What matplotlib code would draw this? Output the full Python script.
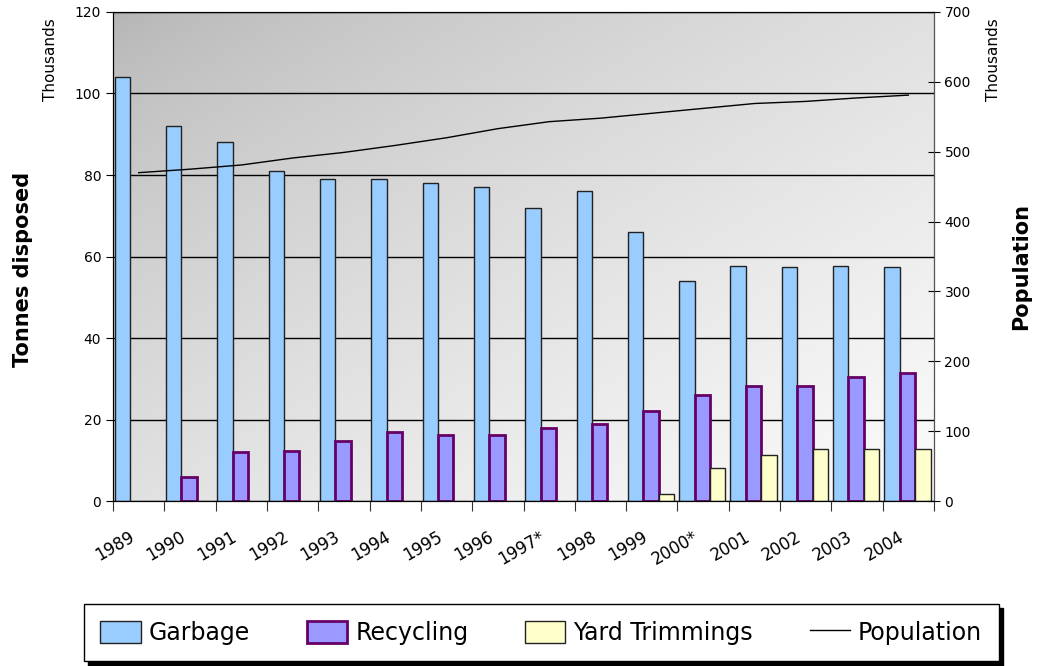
import numpy as np
import matplotlib
matplotlib.use('Agg')
from matplotlib import pyplot as plt
from matplotlib.patches import Patch
from matplotlib.lines import Line2D

years = ["1989", "1990", "1991", "1992", "1993", "1994", "1995", "1996",
         "1997*", "1998", "1999", "2000*", "2001", "2002", "2003", "2004"]
garbage = [104, 92, 88, 81, 79, 79, 78, 77, 72, 76, 66, 54, 57.7, 57.5, 57.7, 57.5]
recycling = [0, 6, 12, 12.3, 14.8, 17, 16.2, 16.2, 18, 19, 22, 26, 28.2, 28.2, 30.4, 31.3]
yard = [0, 0, 0, 0, 0, 0, 0, 0, 0, 0, 1.8, 8, 11.3, 12.7, 12.7, 12.7]
population = [470, 475, 481, 491, 499, 509, 520, 533, 543, 548, 555, 562, 569, 572, 577, 581]

fig = plt.figure(figsize=(10.37, 6.66), dpi=100)
ax = fig.add_axes([0.109, 0.2477, 0.7917, 0.7343])
ax2 = ax.twinx()

# diagonal grey gradient behind the plot, dark top-left to white bottom-right
gx, gy = np.meshgrid(np.linspace(0, 1, 300), np.linspace(0, 1, 300))
t = (gx + gy) / 2
shade = (180 + 72 * t ** 0.7) / 255
rgb = np.dstack([shade, shade, shade])
ax.imshow(rgb, extent=[0, 1, 0, 1], transform=ax.transAxes,
          aspect='auto', zorder=0, interpolation='bilinear')

x = np.arange(len(years))
w = 0.3


def masked(vals):
    return [v if v > 0 else np.nan for v in vals]


ax.bar(x + 0.033, garbage, w, align='edge', color='#99CCFF', edgecolor='#222222', lw=1, zorder=2)
ax.bar(x + 0.333, masked(recycling), w, align='edge', color='#9999FF', edgecolor='#660066', lw=2, zorder=2)
ax.bar(x + 0.633, masked(yard), w, align='edge', color='#FFFFCC', edgecolor='#222222', lw=1, zorder=2)
ax2.plot(x + 0.5, population, color='black', lw=1)

ax.set_xlim(0, len(years))
ax.set_ylim(0, 120)
ax2.set_ylim(0, 700)
ax.set_yticks(range(0, 121, 20))
ax2.set_yticks(range(0, 701, 100))
ax.yaxis.grid(True, color='black', lw=1)
ax.set_axisbelow(True)

ax.set_xticks(x.tolist() + [len(years)])
ax.set_xticklabels([])
# labels sit a little left of the group centres, like the original
ax.set_xticks(x + 0.3, minor=True)
ax.set_xticklabels(years, minor=True, rotation=30, ha='right', rotation_mode='anchor',
                   fontsize=12)
ax.tick_params(axis='x', which='minor', length=0, pad=19)
ax.tick_params(axis='x', which='major', direction='out', length=7, color='#333333')
ax.tick_params(axis='y', labelsize=10, length=5)
ax2.tick_params(axis='y', labelsize=10, length=8, direction='inout')

for s in ['left', 'top', 'bottom']:
    ax.spines[s].set_color('black')
ax2.spines['right'].set_color('#555555')

fig.text(0.049, 0.91, "Thousands", rotation=90, ha='center', va='center', fontsize=11)
fig.text(0.958, 0.91, "Thousands", rotation=90, ha='center', va='center', fontsize=11)
fig.text(0.022, 0.595, "Tonnes disposed", rotation=90, ha='center', va='center',
         fontsize=15, fontweight='bold')
fig.text(0.985, 0.6, "Population", rotation=90, ha='center', va='center',
         fontsize=15, fontweight='bold')

handles = [Patch(facecolor='#99CCFF', edgecolor='#222222', lw=1),
           Patch(facecolor='#9999FF', edgecolor='#660066', lw=2),
           Patch(facecolor='#FFFFCC', edgecolor='#222222', lw=1),
           Line2D([], [], color='black', lw=1)]
leg = fig.legend(handles, ["Garbage", "Recycling", "Yard Trimmings", "Population"],
                 loc='center', bbox_to_anchor=(0.522, 0.05), ncol=4, fontsize=17,
                 frameon=True, fancybox=False, edgecolor='black', handlelength=1.7,
                 handleheight=1.1, columnspacing=2.4, handletextpad=0.35,
                 shadow={'color': 'black', 'alpha': 1, 'ox': 3, 'oy': -3},
                 borderpad=0.7)
leg.get_frame().set_linewidth(1)

fig.savefig("out.png", dpi=100)
